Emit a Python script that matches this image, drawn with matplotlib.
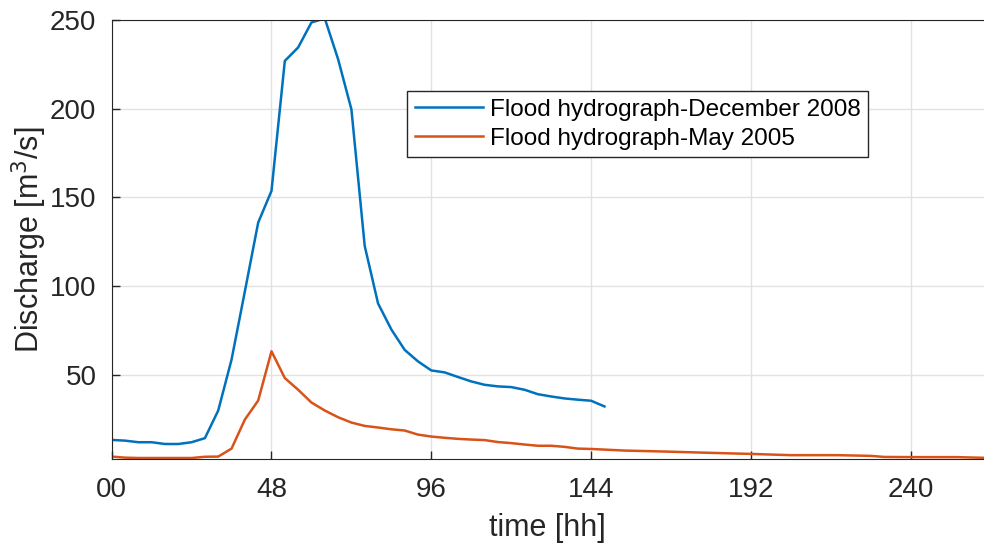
import matplotlib.pyplot as plt

plt.rcParams['font.family'] = ['Liberation Sans', 'DejaVu Sans']

# Flood hydrograph December 2008 (every 4 h)
t_dec = [0, 4, 8, 12, 16, 20, 24, 28, 32, 36, 40, 44, 48, 52, 56, 60, 64, 68, 72,
         76, 80, 84, 88, 92, 96, 100, 104, 108, 112, 116, 120, 124, 128, 132, 136,
         140, 144, 148]
q_dec = [13.2, 12.8, 11.9, 11.9, 10.9, 10.9, 11.9, 14.2, 29.8, 58.5, 97.0, 135.8,
         153.7, 227.0, 234.6, 248.7, 251.0, 228.0, 199.7, 122.6, 90.2, 75.5, 64.0,
         57.5, 52.4, 51.3, 48.7, 46.2, 44.3, 43.4, 43.0, 41.5, 39.0, 37.7, 36.6,
         35.9, 35.3, 32.1]

# Flood hydrograph May 2005
t_may = [0, 4, 8, 12, 16, 20, 24, 28, 32, 36, 40, 44, 48, 52, 56, 60, 64, 68, 72,
         76, 80, 84, 88, 92, 96, 100, 104, 108, 112, 116, 120, 124, 128, 132, 136,
         140, 144, 154, 167, 180, 192, 204, 218, 228, 232, 240, 254, 262]
q_may = [3.8, 3.2, 3.0, 3.0, 3.0, 3.0, 3.0, 3.7, 3.8, 8.3, 24.7, 35.4, 63.2, 48.1,
         41.5, 34.3, 29.8, 26.0, 23.0, 21.1, 20.2, 19.2, 18.5, 16.2, 15.1, 14.4,
         13.8, 13.4, 13.1, 12.0, 11.4, 10.6, 9.9, 9.9, 9.3, 8.3, 8.1, 7.2, 6.6,
         5.9, 5.3, 4.6, 4.6, 4.2, 3.6, 3.5, 3.5, 3.1]

xticks = [0, 48, 96, 144, 192, 240]
xticklabels = ['00', '48', '96', '144', '192', '240']
yticks = [50, 100, 150, 200, 250]

dark = '#262626'

fig = plt.figure(figsize=(9.84, 5.45), dpi=100)
ax = fig.add_axes([0.1135, 0.158, 0.8865, 0.805])

ax.plot(t_dec, q_dec, color='#0072BD', lw=1.8,
        label='Flood hydrograph-December 2008')
ax.plot(t_may, q_may, color='#D95319', lw=1.8,
        label='Flood hydrograph-May 2005')

ax.set_xlim(0, 262)
ax.set_ylim(2.5, 250)
ax.set_xticks(xticks)
ax.set_xticklabels(xticklabels)
ax.set_yticks(yticks)

ax.grid(True, color='#e2e2e2', lw=1.0)
ax.set_axisbelow(True)
ax.tick_params(direction='in', length=6, width=1, colors=dark,
               labelsize=20, top=False, right=False)
ax.tick_params(axis='x', pad=13)
ax.tick_params(axis='y', pad=11)
for side in ['left', 'bottom', 'top']:
    ax.spines[side].set_color(dark)
ax.spines['right'].set_visible(False)

ax.set_xlabel('time [hh]', fontsize=22, color=dark, labelpad=7)
ax.set_ylabel('Discharge [m$^3$/s]', fontsize=22, color=dark, labelpad=1)

leg = ax.legend(loc='upper left', bbox_to_anchor=(0.339, 0.838),
                borderaxespad=0, fontsize=17.5, fancybox=False,
                edgecolor=dark, framealpha=1, handlelength=2.8,
                handletextpad=0.3, labelspacing=0.3, borderpad=0.3)
leg.get_frame().set_linewidth(1.0)

fig.savefig('out.png', dpi=100)
